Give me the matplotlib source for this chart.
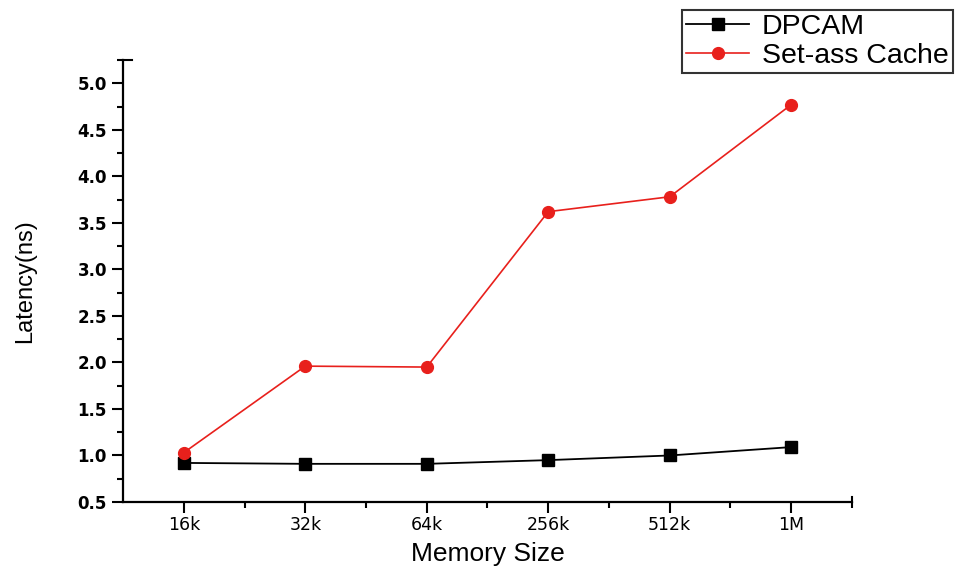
import matplotlib
matplotlib.use('Agg')
import matplotlib.pyplot as plt
import numpy as np
from matplotlib.ticker import MultipleLocator, FormatStrFormatter

plt.rcParams['font.family'] = ['Liberation Sans', 'DejaVu Sans']

sizes = ['16k', '32k', '64k', '256k', '512k', '1M']
dpcam = [0.92, 0.91, 0.91, 0.95, 1.00, 1.09]
setass = [1.03, 1.96, 1.95, 3.62, 3.78, 4.77]

fig = plt.figure(figsize=(9.64, 5.68), dpi=100)
ax = fig.add_axes([0.1276, 0.1162, 0.8838 - 0.1276, 0.8944 - 0.1162])

x = np.arange(len(sizes))
ax.plot(x, dpcam, color='black', lw=1.3, marker='s', ms=8.5, label='DPCAM', clip_on=False)
ax.plot(x, setass, color='#e8201c', lw=1.2, marker='o', ms=8.5, label='Set-ass Cache', clip_on=False)

ax.set_xlim(-0.5, 5.5)
ax.set_ylim(0.5, 5.25)
ax.set_xticks(x)
ax.set_xticklabels(sizes)
ax.set_xticks(x + 0.5, minor=True)
ax.yaxis.set_major_locator(MultipleLocator(0.5))
ax.yaxis.set_minor_locator(MultipleLocator(0.25))
ax.yaxis.set_major_formatter(FormatStrFormatter('%.1f'))

ax.spines['top'].set_visible(False)
ax.spines['right'].set_visible(False)
for s in ['left', 'bottom']:
    ax.spines[s].set_linewidth(1.6)
ax.tick_params(which='major', direction='out', length=8, width=1.5)
ax.tick_params(which='minor', direction='out', length=4, width=1.5)
ax.tick_params(axis='x', which='major', pad=2)
for lab in ax.get_yticklabels():
    lab.set_fontfamily('DejaVu Sans')
    lab.set_fontweight('bold')
    lab.set_fontsize(12)
for lab in ax.get_xticklabels():
    lab.set_fontfamily('DejaVu Sans')
    lab.set_fontsize(12.5)

# small end caps on the axis ends
ax.plot([0, 0.012], [1, 1], transform=ax.transAxes, color='black', lw=1.5, clip_on=False)
ax.plot([1, 1], [0, 0.012], transform=ax.transAxes, color='black', lw=1.5, clip_on=False)

ax.set_xlabel('Memory Size', fontsize=19, labelpad=6)
ax.set_ylabel('Latency(ns)', fontsize=17, labelpad=30)

leg = ax.legend(loc='upper left', bbox_to_anchor=(682 / 964, 1 - 10 / 568),
                bbox_transform=fig.transFigure, fontsize=20.5, frameon=True,
                fancybox=False, edgecolor='black', borderpad=0.15, labelspacing=0.08,
                handlelength=2.2, handletextpad=0.45, borderaxespad=0)
leg.get_frame().set_linewidth(1.5)

fig.savefig('out.png', dpi=100)
